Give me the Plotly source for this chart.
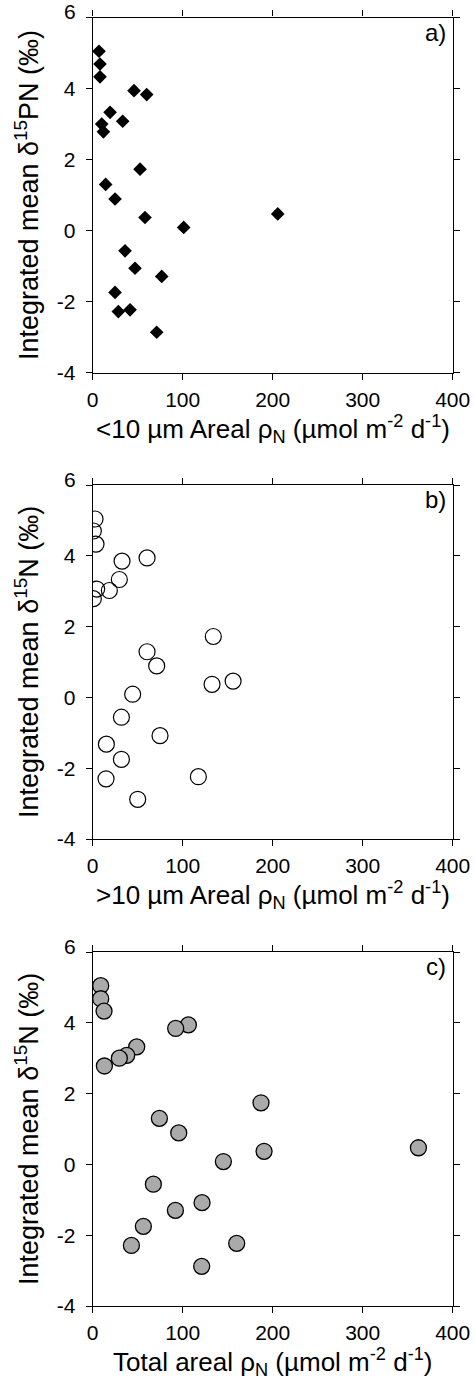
import plotly.graph_objects as go

# Panel a: <10 um areal rho_N vs integrated mean d15PN
a_x = [7.0, 8.1, 8.1, 45.9, 60.0, 19.3, 33.3, 10.0, 11.9, 52.6, 14.4, 24.8, 58.1, 205.6, 101.1,
       35.9, 47.0, 76.7, 24.8, 28.5, 41.5, 71.1]
a_y = [5.05, 4.69, 4.33, 3.94, 3.83, 3.33, 3.08, 3.00, 2.78, 1.73, 1.30, 0.89, 0.37, 0.47, 0.09,
       -0.57, -1.06, -1.29, -1.74, -2.28, -2.23, -2.86]

# Panel b: >10 um areal rho_N vs integrated mean d15N
b_x = [2.6, 0.7, 3.7, 60.4, 32.6, 29.6, 4.4, 18.5, 0.7, 134.0, 60.4, 71.1, 132.6, 156.0, 44.4,
       31.9, 74.8, 15.2, 31.9, 14.8, 117.4, 50.0]
b_y = [5.04, 4.70, 4.33, 3.94, 3.85, 3.33, 3.06, 3.02, 2.79, 1.72, 1.29, 0.89, 0.37, 0.46, 0.09,
       -0.56, -1.08, -1.32, -1.75, -2.30, -2.24, -2.88]

# Panel c: total areal rho_N vs integrated mean d15N
c_x = [8.9, 8.9, 12.6, 106.3, 92.2, 48.9, 37.8, 29.6, 13.0, 187.0, 74.1, 95.6, 190.4, 361.9, 145.2,
       67.4, 121.5, 91.9, 56.3, 43.0, 160.0, 121.1]
c_y = [5.05, 4.68, 4.33, 3.94, 3.84, 3.32, 3.08, 3.00, 2.78, 1.74, 1.30, 0.89, 0.37, 0.47, 0.08,
       -0.56, -1.08, -1.30, -1.75, -2.29, -2.23, -2.88]

x_ticks = [0, 100, 200, 300, 400]
y_ticks = [-4, -2, 0, 2, 4, 6]
y_ticktext = ["-4", "-2", "0", "2", "4", "6"]

panel_labels = ["a)", "b)", "c)"]
x_titles = [
    "&lt;10 µm Areal ρ<sub>N</sub> (µmol m<sup>-2</sup> d<sup>-1</sup>)",
    "&gt;10 µm Areal ρ<sub>N</sub> (µmol m<sup>-2</sup> d<sup>-1</sup>)",
    "Total areal ρ<sub>N</sub> (µmol m<sup>-2</sup> d<sup>-1</sup>)",
]
y_titles = [
    "Integrated mean δ<sup>15</sup>PN (‰)",
    "Integrated mean δ<sup>15</sup>N (‰)",
    "Integrated mean δ<sup>15</sup>N (‰)",
]

W, H = 475, 1384
FONT = "Liberation Sans, Arial, Helvetica, sans-serif"
TICK_FS = 21
XTITLE_FS = 26
YTITLE_FS = 27
LABEL_FS = 24

x_px = (92.7, 452.7)
y_px = [(17.5, 372.7), (485.0, 839.0), (952.0, 1306.0)]
x_dom = [x_px[0] / W, x_px[1] / W]


def px_x(v):
    return v / W


def px_y(v):
    return 1 - v / H


fig = go.Figure()

fig.add_trace(go.Scatter(
    x=a_x, y=a_y, mode="markers", xaxis="x", yaxis="y",
    marker=dict(symbol="diamond", size=10.5, color="black", line=dict(width=0)),
    showlegend=False))
fig.add_trace(go.Scatter(
    x=b_x, y=b_y, mode="markers", xaxis="x2", yaxis="y2",
    marker=dict(symbol="circle-open", size=16, color="black", line=dict(width=1.2)),
    showlegend=False))
fig.add_trace(go.Scatter(
    x=c_x, y=c_y, mode="markers", xaxis="x3", yaxis="y3",
    marker=dict(symbol="circle", size=16, color="#aaaaaa", line=dict(width=1.3, color="black")),
    showlegend=False))

layout = dict(
    width=W, height=H,
    margin=dict(l=0, r=0, t=0, b=0, autoexpand=False),
    paper_bgcolor="white", plot_bgcolor="white",
    font=dict(family=FONT, size=TICK_FS, color="black"),
    showlegend=False,
)

annotations = []
for i in range(3):
    sfx = "" if i == 0 else str(i + 1)
    top, bot = y_px[i]
    ydom = [px_y(bot), px_y(top)]
    common = dict(showline=True, linecolor="black", linewidth=1.2, mirror="ticks",
                  ticks="outside", ticklen=6, tickwidth=1.2, tickcolor="black",
                  showgrid=False, zeroline=False, automargin=False,
                  ticklabeloverflow="allow",
                  tickfont=dict(family=FONT, size=TICK_FS))
    layout["xaxis" + sfx] = dict(
        domain=x_dom, anchor="y" + sfx, range=[0, 400], tickvals=x_ticks,
        ticklabelstandoff=2, **common)
    # the top label "6" sits slightly above its tick in the original: drawn separately
    layout["yaxis" + sfx] = dict(
        domain=ydom, anchor="x" + sfx, range=[-4, 6], tickvals=y_ticks,
        ticktext=y_ticktext[:-1] + [""], ticklabelstandoff=6, **common)
    annotations.append(dict(
        text=y_ticktext[-1], xref="paper", yref="paper",
        x=px_x(76.5), y=px_y(top - 5.5), xanchor="right", yanchor="middle",
        showarrow=False, borderpad=0,
        font=dict(family=FONT, size=TICK_FS, color="black")))
    # x-axis title
    annotations.append(dict(
        text=x_titles[i], xref="paper", yref="paper",
        x=px_x((x_px[0] + x_px[1]) / 2), y=px_y(bot + 56),
        xanchor="center", yanchor="middle", showarrow=False, borderpad=0,
        font=dict(family=FONT, size=XTITLE_FS, color="black")))
    # y-axis title
    annotations.append(dict(
        text=y_titles[i], xref="paper", yref="paper", textangle=-90,
        x=px_x(27), y=px_y((top + bot) / 2),
        xanchor="center", yanchor="middle", showarrow=False,
        font=dict(family=FONT, size=YTITLE_FS, color="black")))
    # panel label
    annotations.append(dict(
        text=panel_labels[i], xref=("x" + sfx + " domain"), yref=("y" + sfx + " domain"),
        x=0.988, y=0.958, xanchor="right", yanchor="middle", showarrow=False,
        font=dict(family=FONT, size=LABEL_FS, color="black")))

layout["annotations"] = annotations
fig.update_layout(**layout)

# remove the browser's default 8px body margin so the figure fills the window
fig.write_html("out.html", config={"displayModeBar": False},
               post_script="document.body.style.margin='0';")
